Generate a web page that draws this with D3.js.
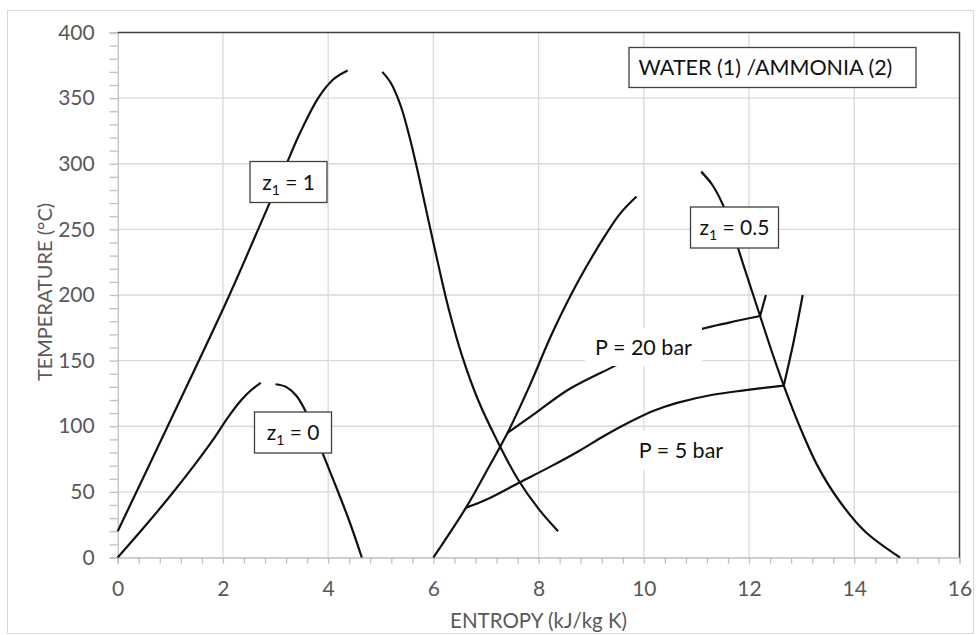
<!DOCTYPE html>
<html>
<head>
<meta charset="utf-8">
<script src="https://cdn.jsdelivr.net/npm/d3@7"></script>
<style>
  body { margin: 0; background: #fff; }
  svg { display: block; font-family: Lato, "Open Sans", sans-serif; }
</style>
</head>
<body>
<svg id="chart" width="976" height="635"></svg>
<script>
// entropy (kJ/kg K), temperature (C)
const z1Liquid = [[0,20],[0.95,100],[2.09,197],[2.67,250],[3.21,300],[3.46,323],[3.81,350],[4.09,364],[4.37,371]];
const z1Vapor = [[5.03,370],[5.2,361],[5.38,344],[5.55,320],[5.72,291],[5.9,258],[6.1,222],[6.3,188],[6.55,153],[6.85,120],[7.2,90],[7.6,60],[8.0,37],[8.37,20]];
const z0Liquid = [[0,0],[0.5,23],[1.0,47],[1.45,70],[1.8,89],[2.1,107],[2.35,120],[2.55,128],[2.72,133]];
const z0Vapor = [[3.0,132],[3.2,130],[3.4,123],[3.6,109],[3.85,84],[4.1,59],[4.4,28],[4.64,0]];
const z05Liquid = [[6.0,0],[6.62,38],[7.0,65],[7.41,95],[7.82,130],[8.26,171],[8.76,211],[9.26,245],[9.55,262],[9.86,275]];
const z05Vapor = [[11.09,294],[11.3,284],[11.5,269],[11.7,247],[11.9,222],[12.21,184],[12.44,156],[12.66,131],[12.95,101],[13.3,70],[13.7,44],[14.2,20],[14.87,0]];
const p20 = [[7.41,95],[7.94,110],[8.57,128],[9.45,146],[10.3,163],[11.09,174],[11.62,179],[12.21,184]];
const p20Super = [[12.21,184],[12.32,200]];
const p5 = [[6.62,38],[7.0,44],[7.63,57],[8.26,70],[8.76,81],[9.26,93],[9.77,104],[10.2,112],[10.65,118],[11.31,124],[11.94,127.5],[12.66,131]];
const p5Super = [[12.66,131],[12.85,165],[13.02,200]];

const xTicks = [0, 2, 4, 6, 8, 10, 12, 14, 16];
const yTicks = [0, 50, 100, 150, 200, 250, 300, 350, 400];

const svg = d3.select("#chart");
const plotL = 117.7, plotR = 959.5, plotT = 32.5, plotB = 557.5;

const x = d3.scaleLinear().domain([0, 16]).range([plotL, plotR]);
const y = d3.scaleLinear().domain([0, 400]).range([plotB, plotT]);

// outer chart border
svg.append("rect")
  .attr("x", 7.5).attr("y", 10.5).attr("width", 966).attr("height", 623)
  .attr("fill", "none").attr("stroke", "#d9d9d9");

// grid
svg.append("g").selectAll("line").data(xTicks.slice(1, -1)).join("line")
  .attr("x1", d => x(d)).attr("x2", d => x(d))
  .attr("y1", plotT).attr("y2", plotB)
  .attr("stroke", "#d9d9d9").attr("stroke-width", 1.3);
svg.append("g").selectAll("line").data(yTicks.slice(1, -1)).join("line")
  .attr("x1", plotL).attr("x2", plotR)
  .attr("y1", d => y(d)).attr("y2", d => y(d))
  .attr("stroke", "#d9d9d9").attr("stroke-width", 1.3);

// axes with minor ticks
const xMinor = d3.range(0, 41).map(i => i * 0.4);
const yMinor = d3.range(0, 41).map(i => i * 10);

const xAxis = d3.axisBottom(x).tickValues(xMinor).tickSize(6).tickPadding(18)
  .tickFormat(d => (Math.abs(d - Math.round(d)) < 1e-6 && Math.round(d) % 2 === 0) ? Math.round(d) : "");
const yAxis = d3.axisLeft(y).tickValues(yMinor).tickSize(8).tickPadding(15)
  .tickFormat(d => (Math.round(d) % 50 === 0) ? Math.round(d) : "");

const gx = svg.append("g").attr("transform", `translate(0,${plotB})`).call(xAxis);
const gy = svg.append("g").attr("transform", `translate(${plotL},0)`).call(yAxis);
[gx, gy].forEach(g => {
  g.select(".domain").attr("stroke", "#bfbfbf").attr("stroke-width", 1.3);
  g.selectAll(".tick line").attr("stroke", "#bfbfbf").attr("stroke-width", 1.3);
  g.selectAll(".tick text").attr("fill", "#595959").style("font-size", "21px").style("font-family", "Lato, sans-serif");
});

// dark frame top and right
svg.append("line").attr("x1", plotL).attr("x2", plotR).attr("y1", plotT).attr("y2", plotT)
  .attr("stroke", "#404040").attr("stroke-width", 1.5);
svg.append("line").attr("x1", plotR).attr("x2", plotR).attr("y1", plotT).attr("y2", plotB)
  .attr("stroke", "#404040").attr("stroke-width", 1.5);

// curves
const line = d3.line().x(d => x(d[0])).y(d => y(d[1])).curve(d3.curveCatmullRom.alpha(0.5));
const curves = [z1Liquid, z1Vapor, z0Liquid, z0Vapor, z05Liquid, z05Vapor, p20, p20Super, p5, p5Super];
svg.append("g").selectAll("path").data(curves).join("path")
  .attr("d", line)
  .attr("fill", "none").attr("stroke", "#111").attr("stroke-width", 2.2)
  .attr("stroke-linejoin", "round");

// P labels with white backgrounds
function plainLabel(x0, y0, w, h, txt) {
  svg.append("rect").attr("x", x0).attr("y", y0).attr("width", w).attr("height", h).attr("fill", "#fff");
  svg.append("text").attr("x", x0 + w / 2).attr("y", y0 + h / 2).attr("dy", "0.36em")
    .attr("text-anchor", "middle").attr("fill", "#111").style("font-size", "21.5px").text(txt);
}
plainLabel(585, 328, 117, 38, "P = 20 bar");
plainLabel(630, 431, 102, 39, "P = 5 bar");

// boxed labels
function boxLabel(x0, y0, w, h, sub) {
  const g = svg.append("g");
  g.append("rect").attr("x", x0).attr("y", y0).attr("width", w).attr("height", h)
    .attr("fill", "#fff").attr("stroke", "#404040").attr("stroke-width", 1.3);
  const t = g.append("text").attr("x", x0 + w / 2).attr("y", y0 + h / 2).attr("dy", "0.36em")
    .attr("text-anchor", "middle").attr("fill", "#111").style("font-size", "21px");
  t.append("tspan").text("z");
  t.append("tspan").attr("dy", 5).style("font-size", "14px").text("1");
  t.append("tspan").attr("dy", -5).text(" = " + sub);
}
boxLabel(250, 161.5, 77, 41, "1");
boxLabel(254.5, 412, 77, 41, "0");
boxLabel(690.5, 207, 88, 41, "0.5");

// title box
svg.append("rect").attr("x", 629).attr("y", 47.5).attr("width", 287).attr("height", 40)
  .attr("fill", "#fff").attr("stroke", "#404040").attr("stroke-width", 1.3);
svg.append("text").attr("x", 638.5).attr("y", 67.5).attr("dy", "0.36em")
  .attr("fill", "#111").style("font-size", "21.5px")
  .text("WATER (1) /AMMONIA (2)");

// axis titles
svg.append("text").attr("x", (plotL + plotR) / 2).attr("y", 628)
  .attr("text-anchor", "middle").attr("fill", "#595959").style("font-size", "20.5px")
  .text("ENTROPY (kJ/kg K)");
svg.append("text").attr("transform", "translate(52,292) rotate(-90)")
  .attr("text-anchor", "middle").attr("fill", "#595959").style("font-size", "20px")
  .text("TEMPERATURE (°C)");
</script>
</body>
</html>
